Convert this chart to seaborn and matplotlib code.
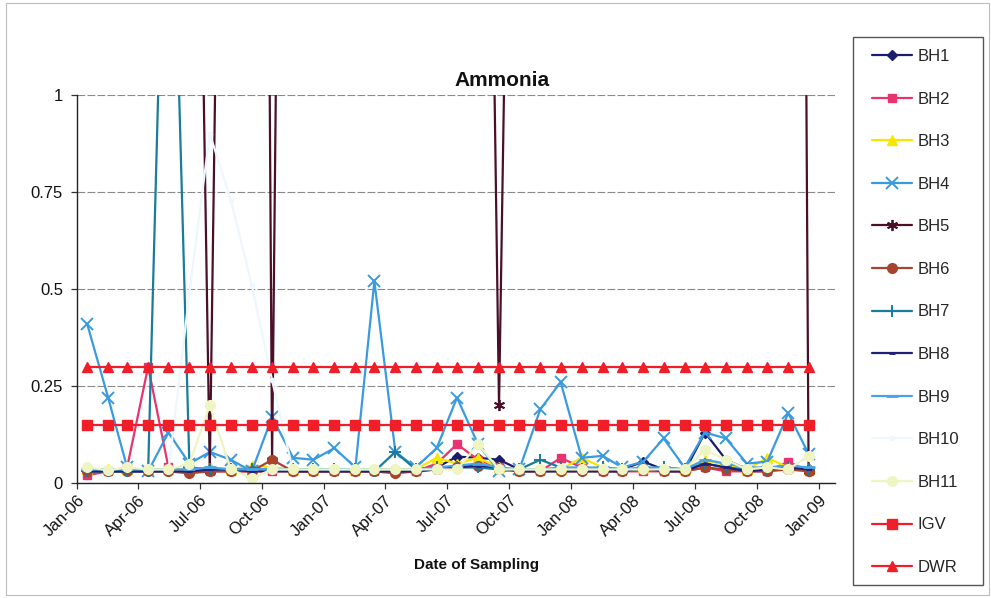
import numpy as np
import pandas as pd
import matplotlib
matplotlib.use("Agg")
import matplotlib.pyplot as plt
import matplotlib.dates as mdates
from matplotlib.patches import Rectangle
import seaborn as sns

nan = np.nan

# Monthly sampling dates, mid-month, Jan-2006 to Dec-2008
months = pd.date_range("2006-01-01", periods=36, freq="MS") + pd.Timedelta(days=15)

# Ammonia results (mg/l) per borehole
bh1 = [0.03, 0.03, 0.03, 0.03, 0.03, 0.03, 0.035, 0.035, 0.03, 0.035, 0.03, 0.03,
       0.03, 0.03, 0.03, 0.03, 0.035, 0.04, 0.068, 0.065, 0.06, 0.035, 0.035, 0.035,
       0.04, 0.035, 0.035, 0.055, 0.035, 0.03, 0.13, 0.06, 0.035, 0.04, 0.04, 0.035]
bh2 = [0.02, 0.03, 0.04, 0.30, 0.04, 0.03, 0.03, 0.03, 0.03, 0.03, 0.03, 0.03,
       0.03, 0.03, 0.03, 0.03, 0.03, 0.05, 0.10, 0.06, 0.04, 0.03, 0.03, 0.065,
       0.04, 0.03, 0.03, 0.03, 0.03, 0.03, 0.04, 0.03, 0.03, 0.03, 0.055, 0.03]
bh3 = [0.035, 0.035, 0.035, 0.035, 0.035, 0.035, 0.04, 0.035, 0.045, 0.04, 0.035, 0.035,
       0.035, 0.035, 0.035, 0.035, 0.035, 0.065, 0.05, 0.065, 0.04, 0.035, 0.035, 0.035,
       0.065, 0.04, 0.035, 0.04, 0.035, 0.035, 0.06, 0.045, 0.035, 0.065, 0.04, 0.035]
bh4 = [0.41, 0.22, 0.04, 0.03, 0.13, 0.05, 0.08, 0.06, 0.03, 0.17, 0.065, 0.06,
       0.09, 0.04, 0.52, 0.08, 0.04, 0.09, 0.22, 0.10, 0.03, 0.035, 0.19, 0.26,
       0.065, 0.07, 0.04, 0.055, 0.115, 0.04, 0.13, 0.115, 0.05, 0.055, 0.18, 0.075]
bh5 = [3.6, 4.2, 3.1, 4.5, 3.8, 3.3, 0.03, 3.9, 8.2, 0.06, 5.4, 4.6,
       3.7, 5.1, 4.4, 3.9, 4.8, 4.1, 3.6, 4.0, 0.20, 3.5, 4.3, 5.0,
       4.6, 3.9, 4.7, 5.2, 4.4, 3.8, 4.9, 5.3, 4.5, 6.1, 9.0, 0.03]
bh6 = [0.03, 0.03, 0.03, 0.03, 0.03, 0.025, 0.03, 0.03, 0.03, 0.06, 0.03, 0.03,
       0.03, 0.03, 0.03, 0.025, 0.03, 0.035, 0.04, 0.045, 0.035, 0.03, 0.03, 0.03,
       0.03, 0.03, 0.03, 0.035, 0.03, 0.03, 0.04, 0.035, 0.03, 0.03, 0.035, 0.03]
bh7 = [0.03, 0.03, 0.03, 0.03, 2.0, 0.04, 0.035, 0.035, 0.035, 0.035, 0.035, 0.035,
       0.035, 0.035, 0.03, 0.08, 0.035, 0.04, 0.04, 0.04, 0.035, 0.035, 0.06, 0.04,
       0.035, 0.04, 0.035, 0.035, 0.04, 0.035, 0.05, 0.04, 0.035, 0.035, 0.04, 0.035]
bh8 = [0.03, 0.03, 0.03, 0.03, 0.03, 0.03, 0.035, 0.035, 0.03, 0.03, 0.03, 0.03,
       0.03, 0.03, 0.03, 0.03, 0.03, 0.035, 0.04, 0.045, 0.04, 0.03, 0.03, 0.03,
       0.03, 0.03, 0.03, 0.04, 0.03, 0.03, 0.05, 0.04, 0.03, 0.035, 0.04, 0.035]
bh9 = [0.035, 0.035, 0.035, 0.035, 0.035, 0.035, 0.04, 0.035, 0.035, 0.035, 0.035, 0.035,
       0.035, 0.035, 0.035, 0.035, 0.035, 0.04, 0.045, 0.05, 0.04, 0.035, 0.035, 0.04,
       0.04, 0.04, 0.035, 0.04, 0.04, 0.035, 0.06, 0.05, 0.04, 0.04, 0.045, 0.04]
bh10 = [nan, nan, nan, nan, 0.03, 0.49, 0.90, 0.73, 0.51, 0.265, 0.03, nan,
        nan, nan, nan, nan, nan, nan, nan, nan, nan, nan, nan, nan,
        nan, nan, nan, nan, nan, nan, nan, nan, nan, nan, nan, nan]
bh11 = [0.04, 0.033, 0.04, 0.035, 0.035, 0.05, 0.20, 0.035, 0.012, 0.035, 0.035, 0.035,
        0.035, 0.035, 0.035, 0.035, 0.035, 0.035, 0.035, 0.10, 0.035, 0.035, 0.035, 0.035,
        0.035, 0.035, 0.035, 0.035, 0.035, 0.035, 0.085, 0.06, 0.035, 0.04, 0.035, 0.07]
igv = [0.15] * 36
dwr = [0.30] * 36

series = ["BH1", "BH2", "BH3", "BH4", "BH5", "BH6", "BH7", "BH8", "BH9",
          "BH10", "BH11", "IGV", "DWR"]
values = [bh1, bh2, bh3, bh4, bh5, bh6, bh7, bh8, bh9, bh10, bh11, igv, dwr]

styles = {
    "BH1":  dict(color="#1c1c6b", marker="D", ms=5.5),
    "BH2":  dict(color="#e8336e", marker="s", ms=6),
    "BH3":  dict(color="#f6e600", marker="^", ms=6.5),
    "BH4":  dict(color="#3a9ae0", marker="x", ms=8, mew=1.4),
    "BH5":  dict(color="#4a1028", marker=(6, 2, 0), ms=8, mew=1.3),
    "BH6":  dict(color="#a8432e", marker="o", ms=7),
    "BH7":  dict(color="#1b7b9b", marker="+", ms=8, mew=1.4),
    "BH8":  dict(color="#202078", marker="_", ms=5, mew=2),
    "BH9":  dict(color="#4aa3e8", marker="_", ms=8, mew=2),
    "BH10": dict(color="#eef7fd", marker="o", ms=3),
    "BH11": dict(color="#eef4c2", marker="o", ms=7),
    "IGV":  dict(color="#f01e28", marker="s", ms=7),
    "DWR":  dict(color="#f01e28", marker="^", ms=7.5),
}

sns.set_theme(style="white")
plt.rcParams["font.family"] = ["Liberation Sans", "DejaVu Sans"]

fig = plt.figure(figsize=(9.91, 5.98), dpi=100)
ax = fig.add_axes([77 / 991, 1 - 483 / 598, (835 - 77) / 991, (483 - 95) / 598])

for name, vals in zip(series, values):
    st = styles[name]
    df = pd.DataFrame({"date": months, "value": vals}).dropna()
    sns.lineplot(data=df, x="date", y="value", ax=ax, color=st["color"],
                 marker=st["marker"], markersize=st["ms"],
                 markeredgewidth=st.get("mew", 1.0), markeredgecolor=st["color"],
                 markerfacecolor=st["color"], linewidth=1.6,
                 estimator=None, errorbar=None, sort=False, label=name)

ax.set_ylim(0, 1)
ax.set_xlim(pd.Timestamp("2006-01-01"), pd.Timestamp("2009-01-24"))
ax.set_yticks([0, 0.25, 0.5, 0.75, 1])
ax.set_yticklabels(["0", "0.25", "0.5", "0.75", "1"])
ax.xaxis.set_major_locator(mdates.MonthLocator(bymonth=[1, 4, 7, 10]))
ax.xaxis.set_major_formatter(mdates.DateFormatter("%b-%y"))
ax.set_xlabel("")
ax.set_ylabel("")

ax.yaxis.grid(True, color="#8a8a8a", linestyle=(0, (7, 2)), linewidth=0.8)
ax.set_axisbelow(True)
for side in ("top", "right"):
    ax.spines[side].set_visible(False)
for side in ("left", "bottom"):
    ax.spines[side].set_color("#222222")
    ax.spines[side].set_linewidth(1.0)

ax.tick_params(axis="both", which="major", direction="out", length=4,
               width=0.9, color="#333333", labelsize=12, labelcolor="#111111",
               bottom=True, left=True)
ax.tick_params(axis="y", pad=6)
ax.tick_params(axis="x", pad=3)
for lbl in ax.get_xticklabels():
    lbl.set_rotation(45)
    lbl.set_ha("right")
    lbl.set_rotation_mode("anchor")

handles, labels = ax.get_legend_handles_labels()
if ax.get_legend() is not None:
    ax.get_legend().remove()

fig.text(502 / 991, 1 - 80 / 598, "Ammonia", ha="center", va="center",
         fontsize=15, fontweight="bold", color="#111111")
fig.text(476 / 991, 1 - 565 / 598, "Date of Sampling", ha="center", va="center",
         fontsize=11, fontweight="bold", color="#111111")

# legend frame
fig.patches.append(Rectangle((853 / 991, 1 - 585 / 598), 130 / 991, 548 / 598,
                             transform=fig.transFigure, fill=False,
                             edgecolor="#555555", linewidth=1.0))
fig.legend(handles, labels, loc="upper left",
           bbox_to_anchor=(872 / 991, 1 - 49 / 598), frameon=False,
           fontsize=12, handlelength=2.4, handletextpad=0.35,
           labelspacing=1.655, borderpad=0, borderaxespad=0)

# outer chart border
fig.patches.append(Rectangle((6 / 991, 3 / 598), 983 / 991, 592 / 598,
                             transform=fig.transFigure, fill=False,
                             edgecolor="#bdbdbd", linewidth=0.8))

fig.savefig("out.png", dpi=100, facecolor="white")
